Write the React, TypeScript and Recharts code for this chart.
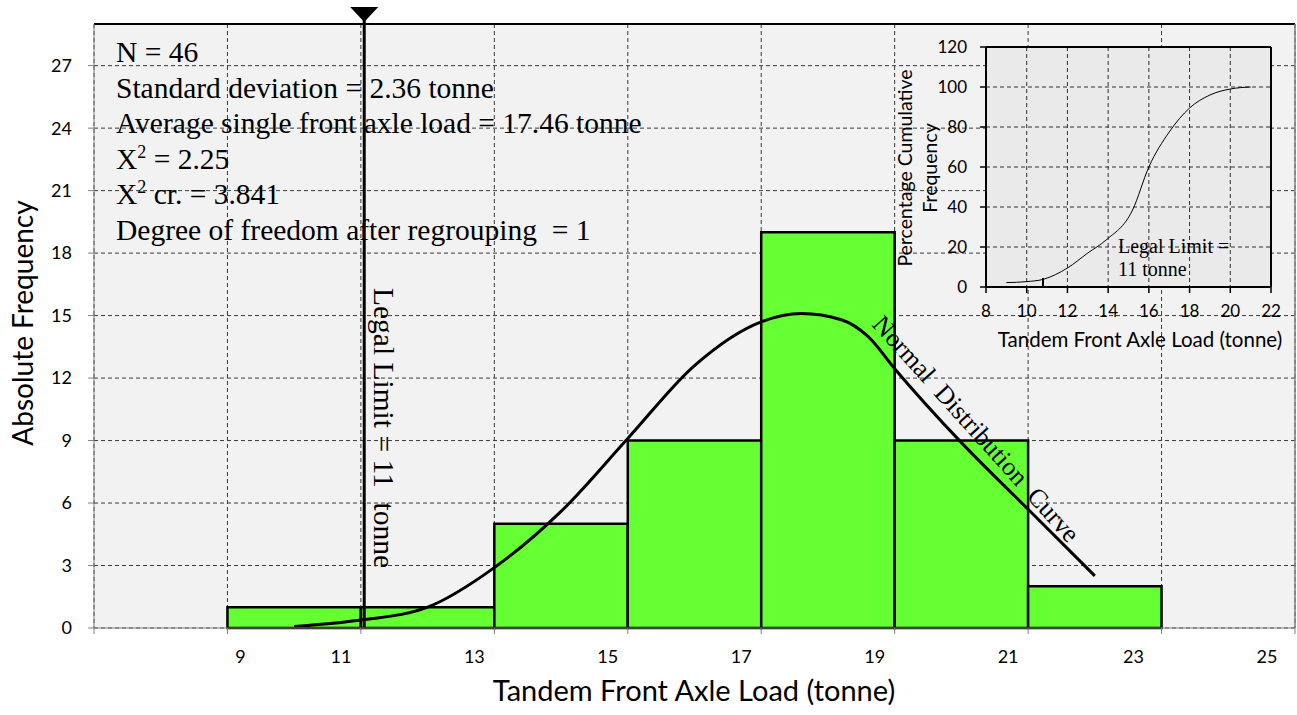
import React from "react";
import {
  CartesianGrid,
  ComposedChart,
  Line,
  LineChart,
  ReferenceArea,
  ReferenceLine,
  XAxis,
  YAxis,
} from "recharts";

// histogram bins (tonne) and absolute frequency
const binEdges = [9, 11, 13, 15, 17, 19, 21, 23];
const binCounts = [1, 1, 5, 9, 19, 9, 2];

const xTicks = [7, 9, 11, 13, 15, 17, 19, 21, 23, 25];
const yTicks = [0, 3, 6, 9, 12, 15, 18, 21, 24, 27];

// normal curve
const normalLoad = [10, 11, 12, 13, 14, 15, 16, 17, 17.6, 18.2, 18.6, 19, 20, 21, 22];
const normalFreq = [0.07, 0.38, 1.0, 2.9, 5.6, 9.1, 12.6, 14.7, 15.1, 14.8, 14.0, 12.45, 8.9, 5.7, 2.5];

const legalLimit = 11.05;

const statLines = [
  { pre: "N = 46" },
  { pre: "Standard deviation = 2.36 tonne" },
  { pre: "Average single front axle load = 17.46 tonne" },
  { pre: "X", sup: "2", post: " = 2.25" },
  { pre: "X", sup: "2", post: " cr. = 3.841" },
  { pre: "Degree of freedom after regrouping  = 1" },
];

// inset: cumulative percentage
const cumLoad = [9, 10, 10.8, 12, 13, 13.9, 15.2, 16, 17, 18, 19, 20, 21];
const cumPercent = [2.2, 2.7, 3.8, 9.5, 17, 23.5, 38.5, 60, 77.5, 89.5, 96, 99, 100];
const insetXTicks = [8, 10, 12, 14, 16, 18, 20, 22];
const insetYTicks = [0, 20, 40, 60, 80, 100, 120];
const insetLimit = 10.8;

const bins = binCounts.map((count, i) => ({ x1: binEdges[i], x2: binEdges[i + 1], count }));
const normalData = normalLoad.map((x, i) => ({ x, y: normalFreq[i] }));
const cumData = cumLoad.map((x, i) => ({ x, y: cumPercent[i] }));

const SANS = "Lato, 'Open Sans', sans-serif";
const SERIF = "'Liberation Serif', 'DejaVu Serif', serif";

const labelShift: Record<number, number> = { 9: 13, 23: -28, 25: -28 };

function MainXTick(props: any) {
  const { x, y, payload } = props;
  if (payload.value === 7) return <g />;
  const shift = labelShift[payload.value] ?? -20;
  return (
    <text x={x + shift} y={y} dy="0.71em" textAnchor="middle" fontSize={18} fontFamily={SANS} fill="#000">
      {payload.value}
    </text>
  );
}

function LimitMarker(props: any) {
  const { viewBox } = props;
  const x = viewBox.x;
  const top = viewBox.y;
  return (
    <g>
      <line x1={x} x2={x} y1={top} y2={top - 12} stroke="#000" strokeWidth={3} />
      <path d={`M${x - 14},${top - 17} L${x + 14},${top - 17} L${x},${top - 2} Z`} fill="#000" />
    </g>
  );
}

export default function App() {
  return (
    <div style={{ position: "absolute", left: 0, top: 0, width: 1297, height: 715, background: "#fff" }}>
      <ComposedChart width={1297} height={715} margin={{ top: 24, right: 2, left: 0, bottom: 0 }}>
        <CartesianGrid fill="#f2f2f2" stroke="#3a3a3a" strokeDasharray="4 3" />
        <XAxis
          type="number"
          dataKey="x"
          domain={[7, 25]}
          ticks={xTicks}
          interval={0}
          allowDataOverflow
          height={87}
          tickSize={6}
          tickMargin={16}
          axisLine={{ stroke: "#7f7f7f" }}
          tickLine={{ stroke: "#7f7f7f" }}
          tick={<MainXTick />}
        />
        <YAxis
          type="number"
          domain={[0, 29]}
          ticks={yTicks}
          interval={0}
          allowDataOverflow
          width={94}
          tickSize={6}
          tickMargin={16}
          axisLine={{ stroke: "#7f7f7f" }}
          tickLine={{ stroke: "#7f7f7f" }}
          tick={{ fontSize: 18, fill: "#000", fontFamily: SANS }}
        />
        <ReferenceLine y={29} stroke="#000" strokeWidth={2} />
        <ReferenceLine x={25} stroke="#7f7f7f" strokeWidth={1.5} />
        {bins.map((b) => (
          <ReferenceArea
            key={b.x1}
            x1={b.x1}
            x2={b.x2}
            y1={0}
            y2={b.count}
            fill="#66ff33"
            fillOpacity={1}
            stroke="#000"
            strokeWidth={2.5}
          />
        ))}
        <ReferenceLine x={legalLimit} stroke="#000" strokeWidth={3} label={<LimitMarker />} />
        <Line
          data={normalData}
          dataKey="y"
          type="monotone"
          stroke="#000"
          strokeWidth={3}
          dot={false}
          activeDot={false}
          isAnimationActive={false}
        />
      </ComposedChart>

      <svg
        width={1297}
        height={715}
        style={{ position: "absolute", left: 0, top: 0, pointerEvents: "none" }}
      >
        <text x={694} y={701} textAnchor="middle" fontSize={29} fontFamily={SANS} fill="#000">
          Tandem Front Axle Load (tonne)
        </text>
        <text
          transform="translate(33,323) rotate(-90)"
          textAnchor="middle"
          fontSize={28}
          fontFamily={SANS}
          fill="#000"
        >
          Absolute Frequency
        </text>
        {statLines.map((l, i) => (
          <text
            key={i}
            x={116}
            y={62 + i * 35.6}
            fontSize={29.5}
            fontFamily={SERIF}
            fill="#000"
            style={{ whiteSpace: "pre" }}
          >
            {l.pre}
            {l.sup && (
              <tspan fontSize={18} dy={-11}>
                {l.sup}
              </tspan>
            )}
            {l.post && <tspan dy={11}>{l.post}</tspan>}
          </text>
        ))}
        <text
          transform="translate(374,428) rotate(90)"
          textAnchor="middle"
          fontSize={29.5}
          fontFamily={SERIF}
          fill="#000"
          style={{ whiteSpace: "pre" }}
        >
          Legal Limit = 11  tonne
        </text>
        <text
          transform="translate(976,429) rotate(48)"
          textAnchor="middle"
          dominantBaseline="central"
          fontSize={26}
          fontFamily={SERIF}
          fill="#000"
          style={{ whiteSpace: "pre" }}
        >
          Normal  Distribution  Curve
        </text>
      </svg>

      <div style={{ position: "absolute", left: 890, top: 30 }}>
        <LineChart width={400} height={330} data={cumData} margin={{ top: 17, right: 19, left: 0, bottom: 0 }}>
          <CartesianGrid fill="#eaeaea" stroke="#303030" strokeDasharray="4 3" />
          <XAxis
            type="number"
            dataKey="x"
            domain={[8, 22]}
            ticks={insetXTicks}
            interval={0}
            height={73}
            tickSize={6}
            tickMargin={12}
            axisLine={{ stroke: "#000", strokeWidth: 2 }}
            tickLine={{ stroke: "#000", strokeWidth: 1.5 }}
            tick={{ fontSize: 17, fill: "#000", fontFamily: SANS }}
          />
          <YAxis
            type="number"
            domain={[0, 120]}
            ticks={insetYTicks}
            interval={0}
            width={96}
            tickSize={6}
            tickMargin={13}
            axisLine={{ stroke: "#000", strokeWidth: 2 }}
            tickLine={{ stroke: "#000", strokeWidth: 1.5 }}
            tick={{ fontSize: 17, fill: "#000", fontFamily: SANS }}
          />
          <ReferenceLine y={120} stroke="#000" strokeWidth={2} />
          <ReferenceLine x={22} stroke="#000" strokeWidth={2} />
          <ReferenceLine
            segment={[
              { x: insetLimit, y: 0 },
              { x: insetLimit, y: 4.5 },
            ]}
            stroke="#000"
            strokeWidth={2}
          />
          <Line
            dataKey="y"
            type="monotone"
            stroke="#000"
            strokeWidth={1}
            dot={false}
            activeDot={false}
            isAnimationActive={false}
          />
        </LineChart>
        <svg
          width={400}
          height={330}
          style={{ position: "absolute", left: 0, top: 0, pointerEvents: "none" }}
        >
          <text x={250} y={317} textAnchor="middle" fontSize={20.5} fontFamily={SANS} fill="#000">
            Tandem Front Axle Load (tonne)
          </text>
          <text transform="translate(22,138) rotate(-90)" textAnchor="middle" fontSize={19.5} fontFamily={SANS} fill="#000">
            Percentage Cumulative
          </text>
          <text transform="translate(47,138) rotate(-90)" textAnchor="middle" fontSize={19.5} fontFamily={SANS} fill="#000">
            Frequency
          </text>
          <text x={228} y={223} fontSize={20} fontFamily={SERIF} fill="#000">
            Legal Limit =
          </text>
          <text x={228} y={246} fontSize={20} fontFamily={SERIF} fill="#000">
            11 tonne
          </text>
        </svg>
      </div>
    </div>
  );
}
